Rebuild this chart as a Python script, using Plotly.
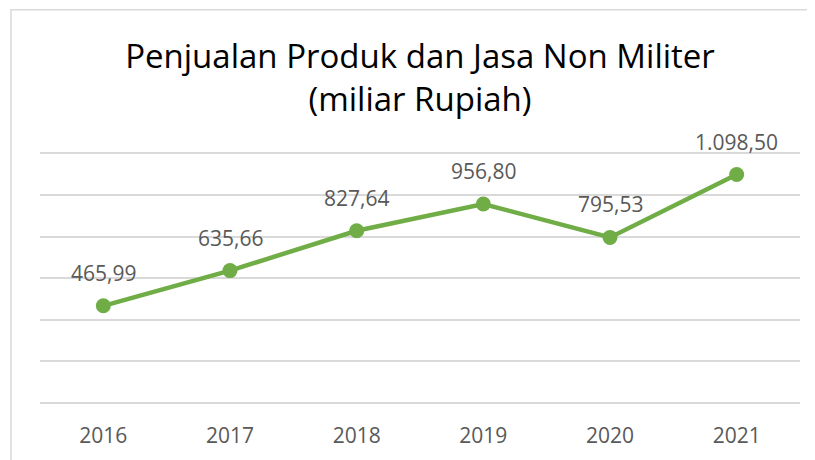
import plotly.graph_objects as go

years = ["2016", "2017", "2018", "2019", "2020", "2021"]
sales = [465.99, 635.66, 827.64, 956.80, 795.53, 1098.50]


def fmt_id(v):
    s = f"{v:,.2f}"
    return s.replace(",", "X").replace(".", ",").replace("X", ".")


labels = [fmt_id(v) for v in sales]

fig = go.Figure()
fig.add_trace(go.Scatter(
    x=years, y=sales, mode="lines+markers",
    line=dict(color="#70AD47", width=4.5),
    marker=dict(color="#70AD47", size=15),
    cliponaxis=False, hoverinfo="x+y",
))

annotations = [
    dict(x=i, y=v, xref="x", yref="y", text=t, showarrow=False,
         yanchor="middle", xanchor="center", yshift=33,
         font=dict(family="Open Sans", size=21, color="#595959"))
    for i, (v, t) in enumerate(zip(sales, labels))
]

# page body has an 8px margin; figure is placed at (8, 8) in the window
Y_MIN, Y_MAX, PAD = 0, 1200, 12
K = 250 / (Y_MAX - Y_MIN)          # px per unit
L, PW = 32, 760
T = 145 - PAD * K
PH = (Y_MAX - Y_MIN + 2 * PAD) * K
fig.update_layout(
    width=807, height=452,
    margin=dict(l=L, r=807 - L - PW, t=T, b=452 - T - PH),
    paper_bgcolor="white", plot_bgcolor="white",
    showlegend=False,
    title=dict(
        text="Penjualan Produk dan Jasa Non Militer<br>(miliar Rupiah)",
        x=0.5, xref="paper", y=1 - 60 / 452, yref="container",
        xanchor="center", yanchor="middle",
        font=dict(family="Open Sans", size=33, color="black"),
    ),
    xaxis=dict(
        type="category", range=[-0.5, 5.5], showgrid=False, showline=False,
        zeroline=False,
        tickfont=dict(family="Open Sans", size=21, color="#595959"),
        ticks="", ticklabelstandoff=int(round(18 - PAD * K)),
    ),
    yaxis=dict(
        range=[Y_MIN - PAD, Y_MAX + PAD], dtick=200, showgrid=True,
        gridcolor="#D9D9D9", gridwidth=1.5, zeroline=False,
        showticklabels=False, showline=False,
    ),
    annotations=annotations,
    shapes=[dict(
        type="rect", xref="paper", yref="paper",
        x0=(3 - L) / PW, x1=1.1, y0=-0.5, y1=1 + (T - 0.7) / PH,
        line=dict(color="#D9D9D9", width=1.5), fillcolor="rgba(0,0,0,0)",
        layer="below",
    )],
)

fig.write_html("out.html")
